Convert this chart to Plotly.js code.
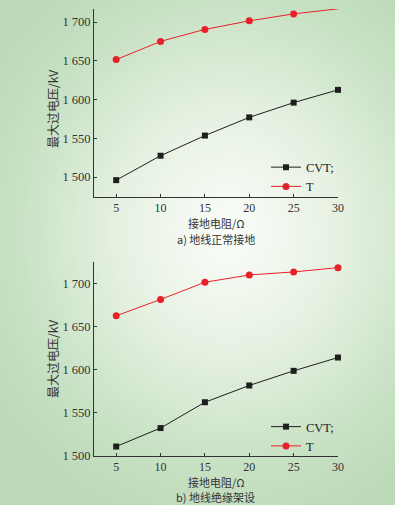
<!DOCTYPE html>
<html>
<head>
<meta charset="utf-8">
<script src="https://cdn.plot.ly/plotly-3.0.1.min.js"></script>
<style>
html,body{margin:0;padding:0;}
body{width:395px;height:505px;background:radial-gradient(ellipse 70% 60% at 58% 46%, #fbfdf9 0%, #e6f1e2 40%, #c9e2c5 75%, #bcd9b8 100%);}
#chart{width:395px;height:505px;}
</style>
</head>
<body>
<div id="chart"></div>
<script>
// Data
const resistance = [5, 10, 15, 20, 25, 30];
// a) 地线正常接地
const cvtNormal = [1496, 1527.5, 1553.5, 1577, 1596, 1612.5];
const tNormal = [1651.5, 1675, 1690.5, 1701.5, 1710.5, 1717];
// b) 地线绝缘架设
const cvtInsulated = [1511, 1532.5, 1562.5, 1582, 1599, 1614.5];
const tInsulated = [1663, 1682, 1702, 1710.5, 1714, 1719];

const seriesNames = ['CVT;', 'T'];
const xTicks = [5, 10, 15, 20, 25, 30];
const yTicksA = [1500, 1550, 1600, 1650, 1700];
const yTicksB = [1500, 1550, 1600, 1650, 1700];
const xTitle = '接地电阻/Ω';
const yTitle = '最大过电压/kV';
const captionA = 'a) 地线正常接地';
const captionB = 'b) 地线绝缘架设';

const fmt = v => String(v).replace(/(\d)(?=(\d{3})+$)/, '$1 ');

const black = '#1e1e1e';
const red = '#e8202a';
const serif = '"Liberation Serif", "DejaVu Serif", serif';
const cjk = '"Noto Sans CJK SC", sans-serif';

function tr(x, y, name, color, symbol, xa, ya, leg) {
  return {
    x: x, y: y, name: name, type: 'scatter', mode: 'lines+markers',
    xaxis: xa, yaxis: ya, legend: leg, cliponaxis: false,
    line: {color: color, width: 1},
    marker: {color: color, symbol: symbol, size: symbol === 'square' ? 6 : 7}
  };
}

const data = [
  tr(resistance, cvtNormal, seriesNames[0], black, 'square', 'x', 'y', 'legend'),
  tr(resistance, tNormal, seriesNames[1], red, 'circle', 'x', 'y', 'legend'),
  tr(resistance, cvtInsulated, seriesNames[0], black, 'square', 'x2', 'y2', 'legend2'),
  tr(resistance, tInsulated, seriesNames[1], red, 'circle', 'x2', 'y2', 'legend2')
];

const axisCommon = {
  showline: true, linecolor: '#333', linewidth: 1, mirror: false,
  showgrid: false, zeroline: false,
  ticks: 'inside', ticklen: 3, tickwidth: 1, tickcolor: '#333',
  tickfont: {family: serif, size: 12.5, color: '#333'}
};

const xax = Object.assign({}, axisCommon, {range: [2.5, 30], tickvals: xTicks, ticktext: xTicks.map(String),
  tickfont: {family: serif, size: 12, color: '#333'}});
const py = p => (456 - p) / 447;
const px = p => (p - 94) / 244;
const ann = (text, x, y, angle, size) => ({
  text: text, xref: 'paper', yref: 'paper', x: px(x), y: py(y), xanchor: 'center', yanchor: 'middle',
  showarrow: false, textangle: angle || 0, font: {family: cjk, size: size || 12, color: '#333'}
});

const layout = {
  width: 395, height: 505,
  paper_bgcolor: 'rgba(0,0,0,0)', plot_bgcolor: 'rgba(0,0,0,0)',
  margin: {l: 94, r: 57, t: 9, b: 49},
  showlegend: true,
  xaxis: Object.assign({}, xax, {domain: [0, 1], anchor: 'y'}),
  yaxis: Object.assign({}, axisCommon, {domain: [0.58, 1], anchor: 'x', range: [1474.6, 1716.8],
    tickvals: yTicksA, ticktext: yTicksA.map(fmt)}),
  xaxis2: Object.assign({}, xax, {domain: [0, 1], anchor: 'y2'}),
  yaxis2: Object.assign({}, axisCommon, {domain: [0, 0.4333], anchor: 'x2', range: [1500, 1725.2],
    tickvals: yTicksB, ticktext: yTicksB.map(fmt)}),
  legend: {x: px(266), y: py(177), xanchor: 'left', yanchor: 'middle', bgcolor: 'rgba(0,0,0,0)',
    font: {family: serif, size: 12.5, color: '#222'}, itemwidth: 30, tracegroupgap: 0},
  legend2: {x: px(266), y: py(436.5), xanchor: 'left', yanchor: 'middle', bgcolor: 'rgba(0,0,0,0)',
    font: {family: serif, size: 12.5, color: '#222'}, itemwidth: 30, tracegroupgap: 0},
  annotations: [
    ann(xTitle, 216, 222.5, 0, 11),
    ann(captionA, 215.5, 238.5, 0, 11),
    ann(xTitle, 216, 481.5, 0, 11),
    ann(captionB, 215.5, 497, 0, 11),
    ann(yTitle, 52, 109, -90),
    ann(yTitle, 52, 359, -90)
  ]
};

Plotly.newPlot('chart', data, layout, {staticPlot: true, displayModeBar: false});
</script>
</body>
</html>
